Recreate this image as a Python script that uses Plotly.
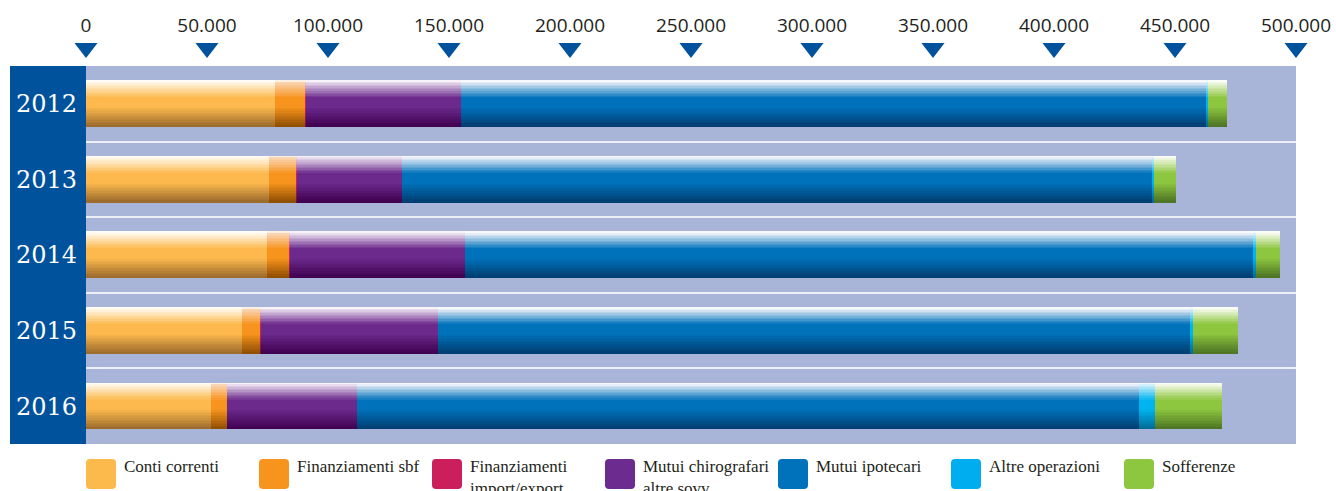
import plotly.graph_objects as go
import numpy as np

# ---------------- data ----------------
years = ["2012", "2013", "2014", "2015", "2016"]
conti_correnti = [78000, 75700, 74900, 64500, 51700]
finanziamenti_sbf = [12800, 11200, 9100, 7400, 6600]
finanziamenti_import_export = [300, 200, 300, 300, 0]
mutui_chirografari = [63800, 43600, 72500, 73300, 53800]
mutui_ipotecari = [308100, 310200, 325500, 311000, 323000]
altre_operazioni = [500, 400, 1200, 800, 6600]
sofferenze = [7900, 9100, 9900, 18600, 27700]

series_names = ["Conti correnti", "Finanziamenti sbf", "Finanziamenti<br>import/export",
                "Mutui chirografari<br>altre sovv.", "Mutui ipotecari",
                "Altre operazioni", "Sofferenze"]
series_values = [conti_correnti, finanziamenti_sbf, finanziamenti_import_export,
                 mutui_chirografari, mutui_ipotecari, altre_operazioni, sofferenze]

tick_vals = [0, 50000, 100000, 150000, 200000, 250000, 300000, 350000, 400000, 450000, 500000]
tick_text = ["0", "50.000", "100.000", "150.000", "200.000", "250.000", "300.000",
             "350.000", "400.000", "450.000", "500.000"]

# ---------------- styles ----------------
# (light top, mid, dark bottom)
palette = [
    ("#FFF6E6", "#FDB94D", "#9A6A2C"),
    ("#FAD5B2", "#F7941D", "#8E4D02"),
    ("#F4C8D6", "#CC1F5C", "#7A0A33"),
    ("#E8DCEE", "#6B2A8C", "#3F0050"),
    ("#E6EEF8", "#0072BB", "#003D70"),
    ("#D0F0FC", "#00B4F0", "#006A96"),
    ("#F3F8E6", "#8DC63F", "#4C7324"),
]
legend_colors = ["#FCB94C", "#F7941D", "#CB1F5B", "#6C2B8F", "#0071BB", "#00AEEF", "#8DC63F"]

BG = "#A9B5D8"
NAVY = "#00529C"
TXT = "#231F20"


def hex2rgb(h):
    h = h.lstrip("#")
    return np.array([int(h[i:i + 2], 16) for i in (0, 2, 4)], dtype=float)


def grad_color(light, mid, dark, t):
    stops = [(0.0, hex2rgb("#FFFFFF")), (0.05, hex2rgb(light)), (0.38, hex2rgb(mid)),
             (0.58, hex2rgb(mid)), (1.0, hex2rgb(dark))]
    for (t0, c0), (t1, c1) in zip(stops[:-1], stops[1:]):
        if t0 <= t <= t1:
            f = (t - t0) / (t1 - t0) if t1 > t0 else 0
            c = c0 + (c1 - c0) * f
            return "rgb(%d,%d,%d)" % tuple(np.round(c))
    return "rgb(%d,%d,%d)" % tuple(hex2rgb(dark))


vals = np.array(series_values, dtype=float)          # (series, years)
bases = np.vstack([np.zeros(len(years)), np.cumsum(vals, axis=0)[:-1]])

BAR_W = 0.61
N = 30
strip = BAR_W / N

fig = go.Figure()

for k in range(N):
    t = (k + 0.5) / N
    xs, ys, bs, cs = [], [], [], []
    for s in range(len(series_values)):
        col = grad_color(*palette[s], t)
        for j, yr in enumerate(years):
            xs.append(vals[s, j])
            bs.append(bases[s, j])
            ys.append(yr)
            cs.append(col)
    fig.add_trace(go.Bar(
        x=xs, y=ys, base=bs, orientation="h",
        width=strip * 1.08, offset=-BAR_W / 2 + k * strip,
        marker=dict(color=cs, line=dict(width=0)),
        showlegend=False, hoverinfo="skip",
    ))

# triangle tick markers above the axis
fig.add_trace(go.Scatter(
    x=tick_vals, y=[0] * len(tick_vals), xaxis="x", yaxis="y2",
    mode="markers", marker=dict(symbol="triangle-down", size=20, color=NAVY, line=dict(width=0)),
    showlegend=False, hoverinfo="skip", cliponaxis=False,
))

# ---------------- layout ----------------
W, H = 1336, 491
ML, MR, MT, MB = 86, 40, 20, 47
PW, PH = W - ML - MR, H - MT - MB
plot_top_px = 66
dom_top = 1 - (plot_top_px - MT) / PH


def px_x(px):
    return (px - ML) / PW


def px_y(py):
    return (H - MB - py) / PH


shapes = [
    dict(type="rect", xref="paper", yref="paper", x0=px_x(10), x1=0, y0=0, y1=dom_top,
         fillcolor=NAVY, line=dict(width=0), layer="below"),
    dict(type="rect", xref="x domain", yref="y domain", x0=0, x1=1, y0=0, y1=1,
         fillcolor=BG, line=dict(width=0), layer="below"),
]
annotations = []
for i, (name, col) in enumerate(zip(series_names, legend_colors)):
    x0p = 86 + 173 * i
    x1p = x0p + 30
    y0p, y1p = 459, 489
    x0, x1 = px_x(x0p), px_x(x1p)
    yt, yb = px_y(y0p), px_y(y1p)
    rx, ry = 4 / PW, 4 / PH
    path = (f"M {x0+rx},{yt} L {x1-rx},{yt} Q {x1},{yt} {x1},{yt-ry} L {x1},{yb+ry} "
            f"Q {x1},{yb} {x1-rx},{yb} L {x0+rx},{yb} Q {x0},{yb} {x0},{yb+ry} "
            f"L {x0},{yt-ry} Q {x0},{yt} {x0+rx},{yt} Z")
    shapes.append(dict(type="path", xref="paper", yref="paper", path=path,
                       fillcolor=col, line=dict(width=0)))
    annotations.append(dict(xref="paper", yref="paper", x=px_x(x0p + 36), y=px_y(455),
                            xanchor="left", yanchor="top", align="left", showarrow=False,
                            text=name, font=dict(family="Liberation Serif", size=17, color=TXT)))

fig.update_layout(
    width=W, height=H,
    margin=dict(l=ML, r=MR, t=MT, b=MB, autoexpand=False),
    paper_bgcolor="white", plot_bgcolor="rgba(0,0,0,0)",
    barmode="overlay", bargap=0,
    xaxis=dict(range=[0, 500000], side="top", tickvals=tick_vals, ticktext=tick_text,
               showgrid=False, zeroline=False, showline=False,
               ticks="outside", ticklen=25, tickcolor="rgba(0,0,0,0)",
               tickfont=dict(family="Open Sans", size=19, color=TXT), fixedrange=True),
    yaxis=dict(domain=[0, dom_top], type="category", categoryorder="array",
               categoryarray=years, autorange="reversed",
               tickson="boundaries", showgrid=True, gridcolor="#EEF0F7", gridwidth=2,
               ticks="", ticklabelstandoff=8,
               tickfont=dict(family="DejaVu Serif", size=24, color="white"),
               zeroline=False, showline=False, fixedrange=True),
    yaxis2=dict(domain=[px_y(60), px_y(36)], range=[-1, 1], visible=False, anchor="x",
                fixedrange=True),
    shapes=shapes, annotations=annotations,
    showlegend=False,
)

fig.write_html("out.html", config={"displayModeBar": False},
               post_script="document.body.style.margin='0';")
